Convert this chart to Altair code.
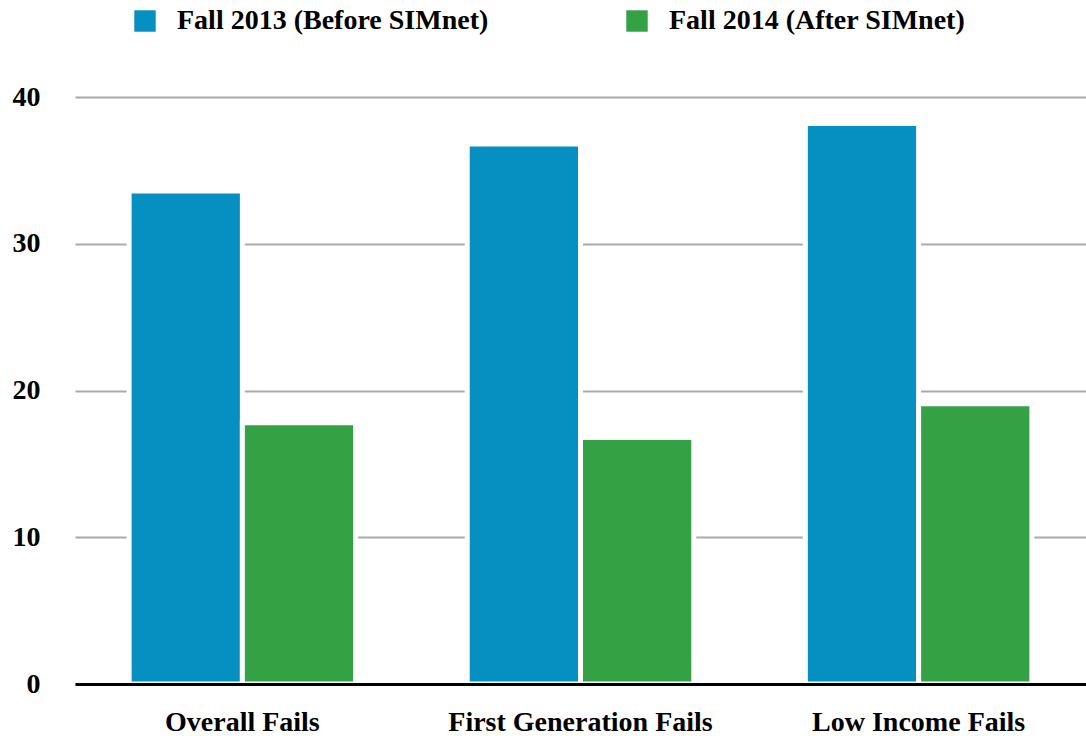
import altair as alt
import pandas as pd

categories = ["Overall Fails", "First Generation Fails", "Low Income Fails"]
series = ["Fall 2013 (Before SIMnet)", "Fall 2014 (After SIMnet)"]
fall2013 = [33.6, 36.8, 38.2]
fall2014 = [17.8, 16.8, 19.1]
colors = ["#068FC1", "#34A244"]
y_ticks = [0, 10, 20, 30, 40]

rows = []
for c, v in zip(categories, fall2013):
    rows.append({"category": c, "series": series[0], "value": v})
for c, v in zip(categories, fall2014):
    rows.append({"category": c, "series": series[1], "value": v})
df = pd.DataFrame(rows)

FONT = "Liberation Serif, DejaVu Serif, serif"

chart = alt.Chart(df).mark_bar(stroke="white", strokeWidth=5, strokeOpacity=1).encode(
    x=alt.X("category:N", sort=categories, title=None,
            scale=alt.Scale(paddingInner=0.33, paddingOuter=0.16),
            axis=alt.Axis(labelAngle=0, ticks=False, domain=True, domainColor="black",
                          domainWidth=3, labelFont=FONT, labelFontWeight="bold",
                          labelFontSize=28, labelColor="black", labelPadding=24,
                          labelLimit=400, grid=False, zindex=1)),
    xOffset=alt.XOffset("series:N", sort=series, scale=alt.Scale(paddingInner=0, paddingOuter=0)),
    y=alt.Y("value:Q", title=None,
            scale=alt.Scale(domain=[0, 40], nice=False),
            axis=alt.Axis(values=y_ticks, ticks=False, domain=False, grid=True,
                          gridColor="#aaaaaa", gridWidth=2, labelFont=FONT,
                          labelFontWeight="bold", labelFontSize=28, labelColor="black",
                          labelPadding=35)),
    color=alt.Color("series:N", sort=series, title=None,
                    scale=alt.Scale(domain=series, range=colors),
                    legend=alt.Legend(orient="none", legendX=56, legendY=-90,
                                      direction="horizontal", columns=2,
                                      symbolType="square", symbolSize=460,
                                      symbolStrokeWidth=0, labelFont=FONT,
                                      labelFontWeight="bold", labelFontSize=28,
                                      labelColor="black", labelOffset=18,
                                      columnPadding=134, labelLimit=500)),
).properties(
    width=1011, height=587,
    background="white",
    padding={"left": 75, "top": 97, "right": 0, "bottom": 52},
    autosize=alt.AutoSizeParams(type="none"),
).configure_view(stroke=None)

chart.save("out.html", embed_options={"renderer": "svg", "actions": False})
